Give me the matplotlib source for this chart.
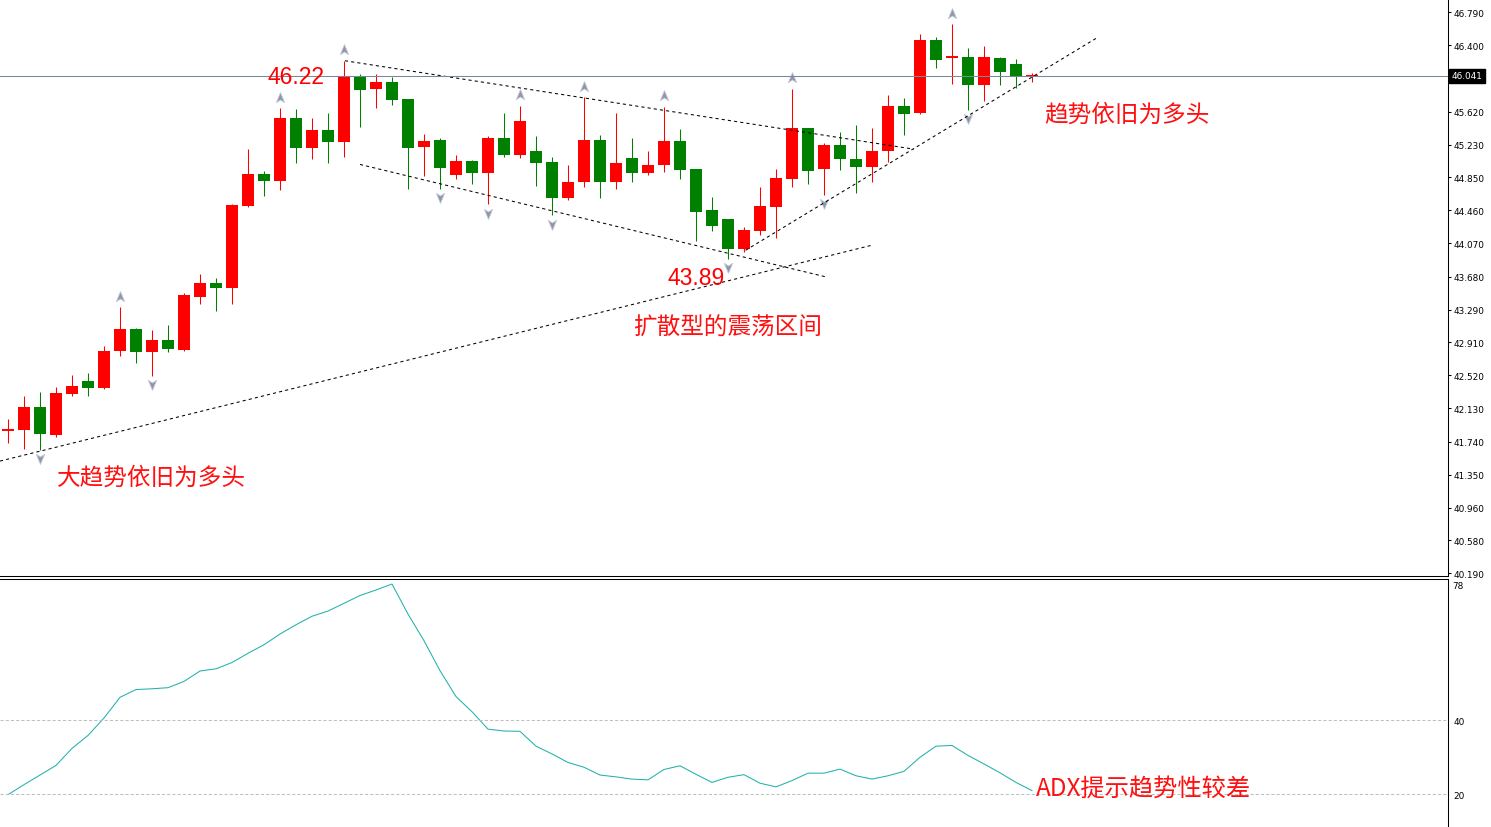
import numpy as np
import matplotlib
matplotlib.use("Agg")
import matplotlib.pyplot as plt
from matplotlib.path import Path
from matplotlib.transforms import offset_copy

# daily candles
opens = [41.87, 41.87, 42.15, 41.82, 42.30, 42.45, 42.37, 42.80, 43.06, 42.79,
         42.93, 42.82, 43.44, 43.61, 43.55, 44.51, 44.89, 44.80, 45.55, 45.19,
         45.41, 45.26, 46.04, 45.89, 45.97, 45.77, 45.20, 45.29, 44.87, 45.04,
         44.90, 45.31, 45.11, 45.16, 45.03, 44.61, 44.79, 45.29, 44.79, 45.08,
         44.90, 44.99, 45.28, 44.95, 44.46, 44.36, 44.00, 44.22, 44.50, 44.83,
         45.43, 44.95, 45.23, 45.06, 44.97, 45.16, 45.69, 45.60, 46.46, 46.26,
         46.26, 45.94, 46.25, 46.18, 46.04]
highs = [42.01, 42.27, 42.32, 42.38, 42.52, 42.55, 42.86, 43.32, 43.07, 43.05,
         43.11, 43.49, 43.71, 43.66, 44.53, 45.18, 44.92, 45.66, 45.65, 45.55,
         45.61, 46.22, 46.06, 46.06, 46.03, 45.77, 45.36, 45.31, 45.11, 45.05,
         45.33, 45.61, 45.69, 45.34, 45.09, 44.99, 45.79, 45.35, 45.60, 45.31,
         45.16, 45.68, 45.42, 44.95, 44.62, 44.36, 44.26, 44.74, 44.95, 45.89,
         45.43, 45.25, 45.38, 45.46, 45.43, 45.82, 45.78, 46.53, 46.50, 46.65,
         46.37, 46.39, 46.26, 46.24, 46.08]
lows = [41.72, 41.65, 41.64, 41.79, 42.28, 42.27, 42.36, 42.75, 42.66, 42.51,
        42.79, 42.81, 43.36, 43.28, 43.36, 44.50, 44.63, 44.70, 45.02, 45.06,
        45.02, 45.09, 45.44, 45.66, 45.70, 44.71, 44.86, 44.71, 44.83, 44.77,
        44.53, 45.09, 45.08, 44.75, 44.40, 44.58, 44.74, 44.60, 44.71, 44.79,
        44.87, 44.91, 44.83, 44.10, 44.22, 43.89, 43.97, 44.17, 44.14, 44.74,
        44.77, 44.64, 44.94, 44.66, 44.79, 45.03, 45.35, 45.59, 46.14, 45.95,
        45.64, 45.75, 45.94, 45.90, 45.97]
closes = [41.87, 42.15, 41.83, 42.31, 42.39, 42.37, 42.81, 43.06, 42.79, 42.93,
          42.83, 43.46, 43.61, 43.55, 44.52, 44.89, 44.81, 45.55, 45.19, 45.41,
          45.26, 46.04, 45.87, 45.97, 45.76, 45.19, 45.28, 44.96, 45.04, 44.90,
          45.31, 45.11, 45.51, 45.02, 44.61, 44.79, 45.29, 44.79, 45.02, 44.90,
          44.99, 45.28, 44.94, 44.44, 44.28, 44.00, 44.23, 44.51, 44.84, 45.43,
          44.92, 45.23, 45.06, 44.97, 45.16, 45.69, 45.59, 46.46, 46.23, 46.26,
          45.94, 46.26, 46.09, 46.04, 46.04]

adx = [19.9, 22.6, 25.2, 27.8, 32.4, 35.9, 40.6, 46.2, 48.3, 48.5,
       48.8, 50.5, 53.3, 53.9, 55.6, 58.1, 60.4, 63.3, 65.8, 68.1,
       69.5, 71.6, 73.7, 75.2, 76.8, 68.7, 61.5, 53.4, 46.4, 42.3,
       37.6, 37.1, 37.0, 33.0, 30.9, 28.6, 27.3, 25.2, 24.7, 24.1,
       23.9, 26.7, 27.7, 25.4, 23.2, 24.6, 25.3, 23.0, 22.0, 23.7,
       25.7, 25.7, 26.8, 25.0, 24.1, 25.0, 26.2, 30.0, 33.0, 33.2,
       30.5, 28.2, 25.8, 23.2, 21.0]

up_fractals = [7, 17, 21, 32, 36, 41, 49, 59]
down_fractals = [2, 9, 27, 30, 34, 45, 51, 60]

last_price = 46.041
price_ticks = [46.790, 46.400, 45.620, 45.230, 44.850, 44.460, 44.070, 43.680,
               43.290, 42.910, 42.520, 42.130, 41.740, 41.350, 40.960, 40.580, 40.190]
adx_levels = [20, 40]

# hand-drawn trend lines (bar index, price)
support_x, support_y = [-0.5, 54.0], [41.51, 44.05]
upper_x, upper_y = [21.06, 56.6], [46.22, 45.18]
lower_x, lower_y = [22.0, 51.06], [45.00, 43.68]
rising_x, rising_y = [46.1, 68.06], [43.99, 46.49]

o = np.array(opens)
h = np.array(highs)
l = np.array(lows)
c = np.array(closes)
x = np.arange(len(o))
colors = np.where(c >= o, "#ff0000", "#008000")

fig = plt.figure(figsize=(14.91, 8.28), dpi=100)
ax = fig.add_axes([0, 251 / 828, 1448 / 1491, 577 / 828])
ax2 = fig.add_axes([0, 0, 1448 / 1491, 248.5 / 828])

# candles
ax.vlines(x, l, h, colors=colors, lw=0.75)
ax.bar(x, c - o, bottom=o, width=0.69, color=colors, linewidth=0)
doji = c == o
ax.hlines(o[doji], x[doji] - 0.345, x[doji] + 0.345, colors="#ff0000", lw=1.4)

# fractal arrows
up_arrow = Path([(0, 1), (0.7, -0.7), (0, -0.25), (-0.7, -0.7), (0, 1)],
                [Path.MOVETO, Path.LINETO, Path.LINETO, Path.LINETO, Path.CLOSEPOLY])
down_arrow = Path([(0, -1), (0.7, 0.7), (0, 0.25), (-0.7, 0.7), (0, -1)],
                  [Path.MOVETO, Path.LINETO, Path.LINETO, Path.LINETO, Path.CLOSEPOLY])
ax.plot(up_fractals, h[up_fractals], ls="none", marker=up_arrow, ms=8.5,
        color="#8e96a8", mec="#c4c8d4", mew=0.6,
        transform=offset_copy(ax.transData, fig=fig, y=7.5, units="points"))
ax.plot(down_fractals, l[down_fractals], ls="none", marker=down_arrow, ms=8.5,
        color="#8e96a8", mec="#c4c8d4", mew=0.6,
        transform=offset_copy(ax.transData, fig=fig, y=-6, units="points"))

# trend lines
for lx, ly in [(support_x, support_y), (upper_x, upper_y),
               (lower_x, lower_y), (rising_x, rising_y)]:
    ax.plot(lx, ly, color="black", lw=0.75, ls=(0, (3, 3)))

ax.axhline(last_price, color="#778899", lw=0.75)

ax.set_xlim(-0.5, 90)
ax.set_ylim(40.158, 46.9465)
ax.set_yticks(price_ticks)
ax.set_yticklabels([f"{t:.3f}" for t in price_ticks])
ax.yaxis.tick_right()
ax.tick_params(axis="y", length=2.2, width=0.75, pad=1.5, labelsize=6.4)
ax.tick_params(axis="x", bottom=False, labelbottom=False)
for s in ["left", "top"]:
    ax.spines[s].set_visible(False)
for s in ["right", "bottom"]:
    ax.spines[s].set_linewidth(0.75)

ax.annotate(f"{last_price:.3f}", xy=(1, last_price), xycoords=("axes fraction", "data"),
            xytext=(2.5, 0), textcoords="offset points", ha="left", va="center",
            color="white", fontsize=6.4, annotation_clip=False,
            bbox=dict(boxstyle="square,pad=0.25", fc="black", ec="black"))

# annotations
cjk = ["Noto Sans CJK SC", "DejaVu Sans"]
red = "#ff1010"
ax.text(18, 45.958, "46.22", color="#ff0000", fontsize=16.5, family="Liberation Sans",
        ha="center", va="baseline")
ax.text(43, 43.594, "43.89", color="#ff0000", fontsize=16.5, family="Liberation Sans",
        ha="center", va="baseline")
ax.text(39.06, 43.08, "扩散型的震荡区间", color=red, fontsize=17, family=cjk,
        ha="left", va="center")
ax.text(3.06, 41.325, "大趋势依旧为多头", color=red, fontsize=17, family=cjk,
        ha="left", va="center")
ax.text(64.75, 45.595, "趋势依旧为多头", color=red, fontsize=17, family=cjk,
        ha="left", va="center")

# ADX panel
ax2.plot(x, adx, color="#20b2aa", lw=0.75)
for lvl in adx_levels:
    ax2.axhline(lvl, color="#c0c0c0", lw=0.75, ls=(0, (3, 2)))
ax2.set_xlim(-0.5, 90)
ax2.set_ylim(11.16, 78.3)
ax2.set_yticks(adx_levels)
ax2.yaxis.tick_right()
ax2.tick_params(axis="y", length=0, pad=4, labelsize=6.4)
ax2.tick_params(axis="x", bottom=False, labelbottom=False)
for s in ["left", "bottom"]:
    ax2.spines[s].set_visible(False)
for s in ["right", "top"]:
    ax2.spines[s].set_linewidth(0.75)
ax2.annotate("78", xy=(1, 1), xycoords="axes fraction", xytext=(3, -1.5),
             textcoords="offset points", ha="left", va="top", fontsize=6.4,
             annotation_clip=False)
ax2.text(64.25, 21.7, "ADX提示趋势性较差", color=red, fontsize=17.5, family=cjk,
         ha="left", va="center")

fig.savefig("out.png", dpi=100, facecolor="white")
